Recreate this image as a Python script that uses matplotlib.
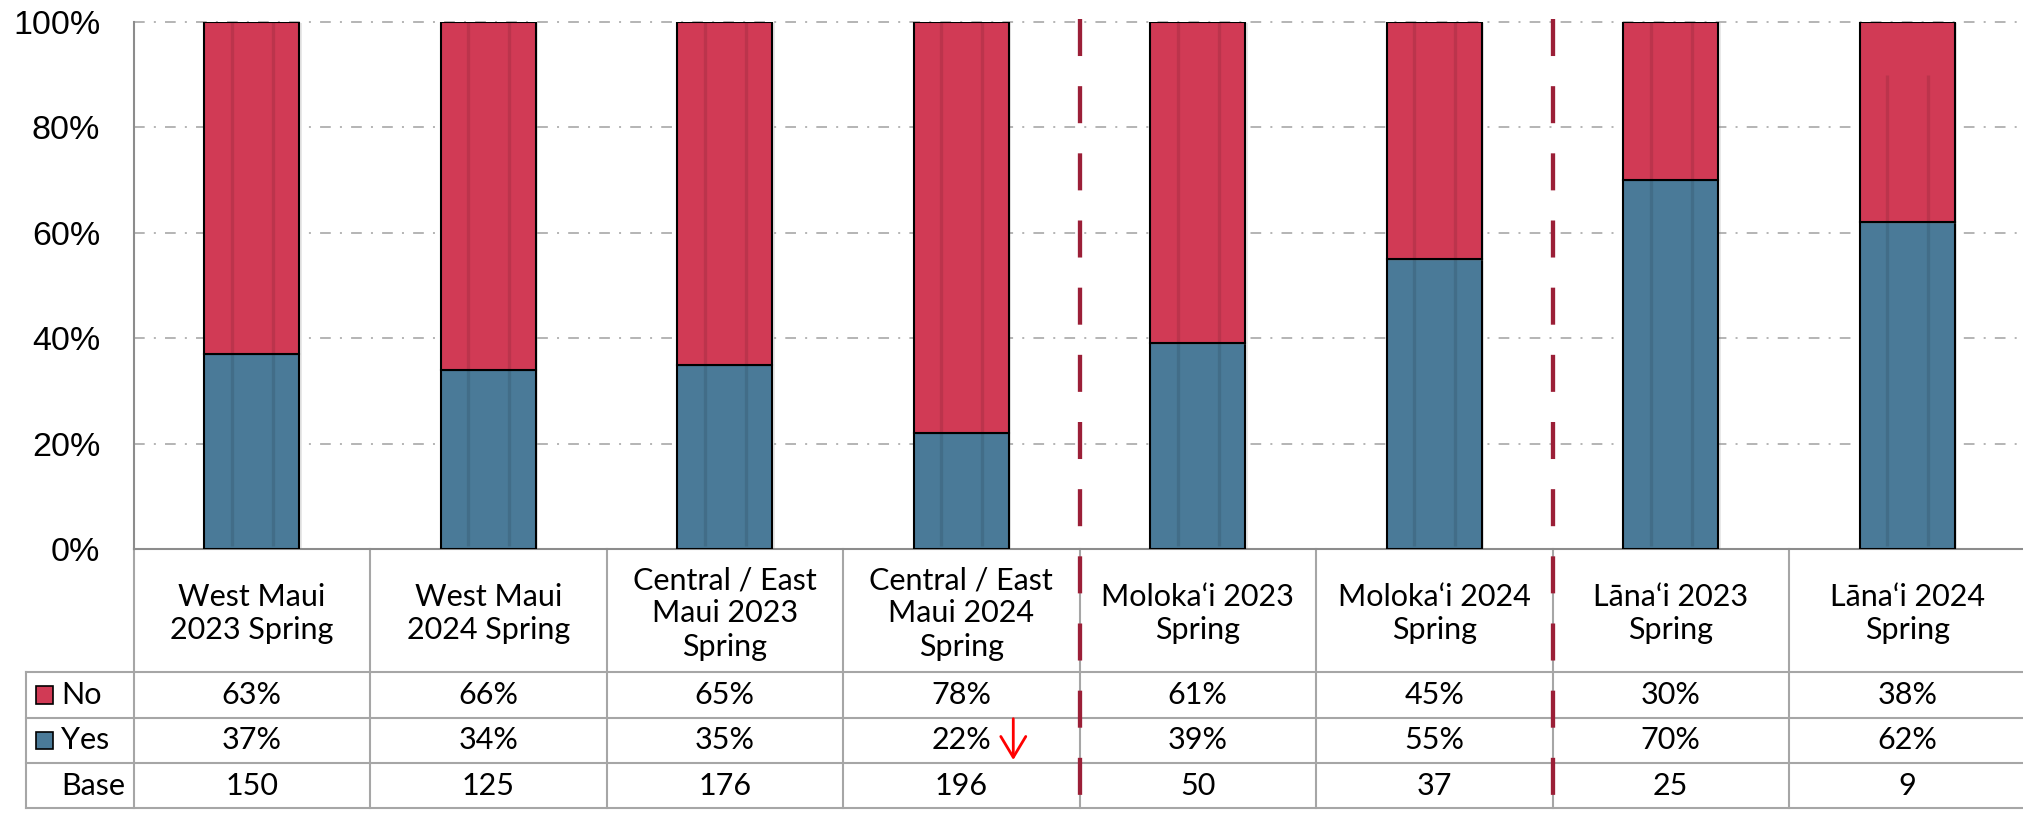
import matplotlib
matplotlib.use("Agg")
import matplotlib.pyplot as plt
import matplotlib.patheffects as pe
import matplotlib.transforms as mtransforms
from matplotlib.patches import Rectangle
from matplotlib.ticker import FuncFormatter

# Data
categories = ["West Maui\n2023 Spring", "West Maui\n2024 Spring",
              "Central / East\nMaui 2023\nSpring", "Central / East\nMaui 2024\nSpring",
              "Moloka\u2018i 2023\nSpring", "Moloka\u2018i 2024\nSpring",
              "L\u0101na\u2018i 2023\nSpring", "L\u0101na\u2018i 2024\nSpring"]
no_vals = [63, 66, 65, 78, 61, 45, 30, 38]
yes_vals = [37, 34, 35, 22, 39, 55, 70, 62]
base_vals = [150, 125, 176, 196, 50, 37, 25, 9]

RED = "#D13A55"
BLUE = "#4A7A98"
SEP = "#9B1F37"
GRID = "#A0A0A0"
LINE = "#A6A6A6"

W, H = 2023, 813
fig = plt.figure(figsize=(W / 100, H / 100), dpi=100)

ax_left, ax_right = 133.5, 2025.5
ax_top, ax_bot = 22, 549
ax = fig.add_axes([ax_left / W, (H - ax_bot) / H, (ax_right - ax_left) / W, (ax_bot - ax_top) / H])
ax.set_zorder(2)
ax.patch.set_visible(False)

x = list(range(len(categories)))
shadow = [pe.SimplePatchShadow(offset=(2, -1), alpha=0.18, shadow_rgbFace="gray"), pe.Normal()]
b1 = ax.bar(x, yes_vals, width=0.40, color=BLUE, edgecolor="black", linewidth=1.5, zorder=3)
b2 = ax.bar(x, no_vals, bottom=yes_vals, width=0.40, color=RED, edgecolor="black", linewidth=1.5, zorder=3)
for p in list(b1) + list(b2):
    p.set_path_effects(shadow)

# faint inner stripes on the bars
stripe_top = [100, 100, 100, 100, 100, 100, 100, 90]
for xi, top in zip(x, stripe_top):
    for off in (-0.084, 0.088):
        ax.vlines(xi + off, 0.5, top, color="black", alpha=0.1, linewidth=2.4, zorder=4)

ax.set_xlim(-0.5, len(categories) - 0.5)
ax.set_ylim(0, 100)
ax.set_yticks([0, 20, 40, 60, 80, 100])
ax.yaxis.set_major_formatter(FuncFormatter(lambda v, _: f"{v:.0f}%"))
ax.tick_params(axis="y", length=0, pad=24, labelsize=24.5)
for lab in ax.get_yticklabels():
    lab.set_family("Liberation Sans")
ax.set_xticks([])
for y in [20, 40, 60, 80, 100]:
    ax.axhline(y, color=GRID, linewidth=1.1, linestyle=(0, (7, 6, 1.3, 6)), zorder=1, clip_on=False)
for s in ["top", "right"]:
    ax.spines[s].set_visible(False)
ax.spines["left"].set_color("#8C8C8C")
ax.spines["left"].set_linewidth(1.5)
ax.spines["bottom"].set_color("#8C8C8C")
ax.spines["bottom"].set_linewidth(1.5)

# table below the bars
tb_top, tb_bot = 549, 808
rows_y = [549, 672, 717.7, 763, 808]
axt = fig.add_axes([ax_left / W, (H - tb_bot) / H, (ax_right - ax_left) / W, (tb_bot - tb_top) / H])
axt.set_zorder(1)
axt.set_xlim(-0.5, len(categories) - 0.5)
axt.set_ylim(tb_bot, tb_top)
axt.axis("off")

label_left = -0.956
tfont = ["Lato", "DejaVu Sans"]
fs = 22
for yb in rows_y[1:]:
    axt.plot([label_left, len(categories) - 0.5], [yb, yb], color=LINE, lw=1.5, clip_on=False)
axt.plot([label_left, label_left], [rows_y[1], rows_y[-1]], color=LINE, lw=1.5, clip_on=False)
for i in range(len(categories)):
    axt.plot([i - 0.5, i - 0.5], [rows_y[0], rows_y[-1]], color=LINE, lw=1.5, clip_on=False)

for i, cat in enumerate(categories):
    axt.text(i, (rows_y[0] + rows_y[1]) / 2 + 3, cat, ha="center", va="center",
             fontsize=fs, family=tfont, linespacing=1.22)
    axt.text(i, (rows_y[1] + rows_y[2]) / 2, f"{no_vals[i]}%", ha="center", va="center", fontsize=fs, family=tfont)
    axt.text(i, (rows_y[2] + rows_y[3]) / 2, f"{yes_vals[i]}%", ha="center", va="center", fontsize=fs, family=tfont)
    axt.text(i, (rows_y[3] + rows_y[4]) / 2, f"{base_vals[i]}", ha="center", va="center", fontsize=fs, family=tfont)

row_labels = ["No", "Yes", "Base"]
row_colors = [RED, BLUE, None]
for r, (lab, col) in enumerate(zip(row_labels, row_colors)):
    yc = (rows_y[r + 1] + rows_y[r + 2]) / 2
    if col is not None:
        axt.add_patch(Rectangle((-0.9135, yc - 8.8), 0.0744, 17.6, facecolor=col,
                                edgecolor="black", lw=1.2, clip_on=False))
    axt.text(-0.8066, yc, lab, ha="left", va="center", fontsize=fs, family=tfont)

# red down arrow next to the 22%
axt.annotate("", xy=(3.22, rows_y[3] - 3), xytext=(3.22, rows_y[2] + 1),
             arrowprops=dict(arrowstyle="->,head_length=0.75,head_width=0.45", color="red",
                             lw=2, mutation_scale=20, shrinkA=0, shrinkB=0),
             annotation_clip=False)

# dashed separators between islands
trans = mtransforms.blended_transform_factory(ax.transData, fig.transFigure)
for xs in [3.5, 5.5]:
    ax.plot([xs, xs], [(H - 19) / H, 0], transform=trans, color=SEP, lw=3.1,
            linestyle=(0, (8.6, 7)), clip_on=False, zorder=6, dash_capstyle="butt")

fig.savefig("out.png", dpi=100)
